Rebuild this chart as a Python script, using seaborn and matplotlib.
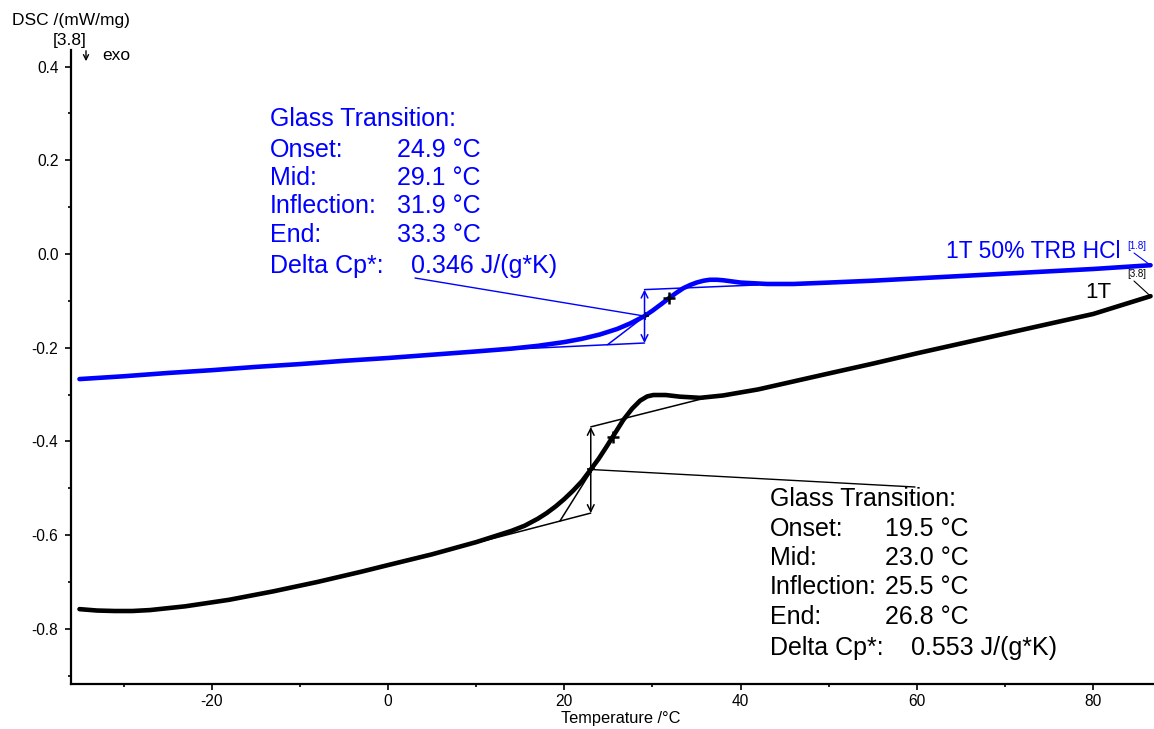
import numpy as np
import pandas as pd
import matplotlib
matplotlib.use("Agg")
import matplotlib.pyplot as plt
from matplotlib.ticker import MultipleLocator
import seaborn as sns

# ---- measured DSC traces (temperature in °C, DSC in mW/mg) ----
temp_trb = [-35.0, -30, -25, -20, -15, -10, -5, 0, 5, 10, 14, 17, 20, 22, 24, 26,
            27.5, 29.1, 30, 31, 31.9, 32.7, 33.5, 34.3, 35, 35.8, 36.5, 37.3, 38,
            40, 43, 46, 50, 55, 60, 65, 70, 75, 80, 86.5]
dsc_trb = [-0.267, -0.261, -0.254, -0.248, -0.241, -0.235, -0.228, -0.222, -0.215,
           -0.208, -0.202, -0.196, -0.188, -0.181, -0.172, -0.160, -0.148, -0.1325,
           -0.121, -0.107, -0.094, -0.083, -0.073, -0.066, -0.061, -0.057, -0.055,
           -0.055, -0.056, -0.061, -0.064, -0.064, -0.061, -0.057, -0.052, -0.047,
           -0.042, -0.037, -0.032, -0.024]

temp_1t = [-35.0, -33, -31, -29, -27, -23, -18, -13, -8, -3, 0, 5, 10, 14, 15.5,
           17, 18, 19, 20, 21, 22, 22.9, 23.9, 24.8, 25.8, 26.7, 27.7, 28.6, 29.4,
           30.1, 31.5, 33.1, 35.4, 38, 42, 46, 50, 55, 60, 65, 70, 75, 80, 86.5]
dsc_1t = [-0.758, -0.761, -0.762, -0.762, -0.760, -0.752, -0.738, -0.720, -0.700,
          -0.678, -0.664, -0.641, -0.615, -0.591, -0.580, -0.565, -0.553, -0.539,
          -0.523, -0.505, -0.485, -0.4625, -0.437, -0.411, -0.381, -0.354, -0.330,
          -0.313, -0.304, -0.301, -0.301, -0.3045, -0.307, -0.302, -0.289, -0.272,
          -0.255, -0.234, -0.212, -0.191, -0.170, -0.149, -0.128, -0.090]

# ---- glass transition evaluation results ----
gt_trb = {"onset": 24.9, "mid": 29.1, "inflection": 31.9, "end": 33.3, "dcp": 0.346}
gt_1t = {"onset": 19.5, "mid": 23.0, "inflection": 25.5, "end": 26.8, "dcp": 0.553}

# baselines used by the evaluation: (T start, DSC start, T end, DSC end)
base_lo_trb = [12.0, -0.205, 29.1, -0.190]
base_hi_trb = [29.1, -0.076, 42.0, -0.066]
base_lo_1t = [5.0, -0.641, 23.0, -0.553]
base_hi_1t = [23.0, -0.369, 36.5, -0.305]

BLUE = "#0000FF"
W, H = 1154, 729

sns.set_theme(style="white")
plt.rcParams["font.family"] = ["Liberation Sans", "DejaVu Sans"]
plt.rcParams["axes.unicode_minus"] = False
plt.rcParams["text.color"] = "black"
plt.rcParams["axes.labelcolor"] = "black"

fig = plt.figure(figsize=(W / 100, H / 100), dpi=100)
ax = fig.add_axes([71 / W, 1 - 684 / H, (1153 - 71) / W, (684 - 50) / H])

df = pd.concat([
    pd.DataFrame({"T": temp_trb, "DSC": dsc_trb, "sample": "1T 50% TRB HCl"}),
    pd.DataFrame({"T": temp_1t, "DSC": dsc_1t, "sample": "1T"}),
])
sns.lineplot(data=df, x="T", y="DSC", hue="sample", sort=False, estimator=None,
             palette={"1T 50% TRB HCl": BLUE, "1T": "black"}, lw=3.3,
             legend=False, ax=ax, solid_capstyle="round", solid_joinstyle="round")

ax.set_xlim(-35.96, 86.78)
ax.set_ylim(-0.9178, 0.4354)


def line_at(base, t):
    t0, v0, t1, v1 = base
    return v0 + (v1 - v0) * (t - t0) / (t1 - t0)


def px(x, y):
    return (x / W, 1 - y / H)


def evaluation(gt, lo, hi, temps, vals, color, mark_color):
    # baselines
    ax.plot([lo[0], lo[2]], [lo[1], lo[3]], color=color, lw=1.1)
    ax.plot([hi[0], hi[2]], [hi[1], hi[3]], color=color, lw=1.1)
    # tangent from onset to end
    v_on = line_at(lo, gt["onset"])
    v_end = line_at(hi, gt["end"])
    ax.plot([gt["onset"], gt["end"]], [v_on, v_end], color=color, lw=1.1)
    # step arrow at mid temperature
    v_lo = line_at(lo, gt["mid"])
    v_hi = line_at(hi, gt["mid"])
    ax.annotate("", xy=(gt["mid"], v_hi), xytext=(gt["mid"], v_lo),
                arrowprops=dict(arrowstyle="<->", color=color, lw=1.1,
                                shrinkA=0, shrinkB=0, mutation_scale=12))
    v_mid = np.interp(gt["mid"], temps, vals)
    v_inf = np.interp(gt["inflection"], temps, vals)
    ax.plot([gt["mid"]], [v_mid], marker="+", ms=6, mew=1.2, color=mark_color)
    ax.plot([gt["inflection"]], [v_inf], marker="+", ms=9, mew=1.8, color=mark_color)
    return v_mid


vm_trb = evaluation(gt_trb, base_lo_trb, base_hi_trb, temp_trb, dsc_trb, BLUE, "black")
vm_1t = evaluation(gt_1t, base_lo_1t, base_hi_1t, temp_1t, dsc_1t, "black", "black")

# leader lines from the result blocks to the mid points
ax.annotate("", xy=(gt_trb["mid"], vm_trb), xytext=(415, H - 278),
            textcoords="figure pixels",
            arrowprops=dict(arrowstyle="-", color=BLUE, lw=1.0, shrinkA=0, shrinkB=0))
ax.annotate("", xy=(gt_1t["mid"], vm_1t), xytext=(915, H - 487),
            textcoords="figure pixels",
            arrowprops=dict(arrowstyle="-", color="black", lw=1.0, shrinkA=0, shrinkB=0))


def result_block(gt, x0, xv, xdcp, ys, color):
    fs = 18
    rows = [("Glass Transition:", None),
            ("Onset:", f"{gt['onset']:.1f} °C"),
            ("Mid:", f"{gt['mid']:.1f} °C"),
            ("Inflection:", f"{gt['inflection']:.1f} °C"),
            ("End:", f"{gt['end']:.1f} °C"),
            ("Delta Cp*:", f"{gt['dcp']:.3f} J/(g*K)")]
    for i, ((lab, val), y) in enumerate(zip(rows, ys)):
        fig.text(*px(x0, y), lab, color=color, fontsize=fs, va="center", ha="left")
        if val is not None:
            xx = xdcp if i == 5 else xv
            fig.text(*px(xx, y), val, color=color, fontsize=fs, va="center", ha="left")


result_block(gt_trb, 270, 397, 411, [119, 150, 178, 206, 235, 266], BLUE)
result_block(gt_1t, 770, 885, 911, [499, 529, 558, 587, 617, 648], "black")

# curve labels
fig.text(*px(1120, 251), "1T 50% TRB HCl", color=BLUE, fontsize=16.5, ha="right", va="center")
fig.text(*px(1111, 292), "1T", color="black", fontsize=16, ha="right", va="center")
fig.text(*px(1137, 246), "[1.8]", color=BLUE, fontsize=7, ha="center", va="center")
fig.text(*px(1137, 274), "[3.8]", color="black", fontsize=7, ha="center", va="center")
ax.annotate("", xy=(temp_trb[-1], dsc_trb[-1]), xytext=(1134, H - 253),
            textcoords="figure pixels",
            arrowprops=dict(arrowstyle="-", color=BLUE, lw=0.8, shrinkA=0, shrinkB=0))
ax.annotate("", xy=(temp_1t[-1], dsc_1t[-1]), xytext=(1134, H - 281),
            textcoords="figure pixels",
            arrowprops=dict(arrowstyle="-", color="black", lw=0.8, shrinkA=0, shrinkB=0))

# axis titles
fig.text(*px(12, 20), "DSC /(mW/mg)", fontsize=12.5, ha="left", va="center", color="black")
fig.text(*px(70, 40), "[3.8]", fontsize=12.5, ha="center", va="center", color="black")
fig.text(*px(102, 56), "exo", fontsize=12.5, ha="left", va="center", color="black")
fig.patches.append(matplotlib.patches.FancyArrowPatch(
    px(86, 48), px(86, 64), transform=fig.transFigure, arrowstyle="->",
    mutation_scale=9, lw=1.0, color="black"))
ax.set_xlabel("")
ax.set_ylabel("")
fig.text(*px(621, 718), "Temperature /°C", fontsize=11.8, ha="center", va="center",
         color="black")

# axes styling
for s in ("top", "right"):
    ax.spines[s].set_visible(False)
for s in ("left", "bottom"):
    ax.spines[s].set_linewidth(1.6)
    ax.spines[s].set_color("black")
ax.xaxis.set_major_locator(MultipleLocator(20))
ax.xaxis.set_minor_locator(MultipleLocator(10))
ax.yaxis.set_major_locator(MultipleLocator(0.2))
ax.yaxis.set_minor_locator(MultipleLocator(0.1))
ax.yaxis.set_major_formatter(matplotlib.ticker.FormatStrFormatter("%.1f"))
ax.tick_params(which="both", direction="out", left=True, bottom=True,
               colors="black", labelcolor="black", labelsize=11.2, width=1.2)
ax.tick_params(axis="x", which="major", length=4, pad=3)
ax.tick_params(axis="y", which="major", length=4, pad=5)
ax.tick_params(which="minor", length=2.5)
ax.grid(False)

fig.savefig("out.png", dpi=100)
